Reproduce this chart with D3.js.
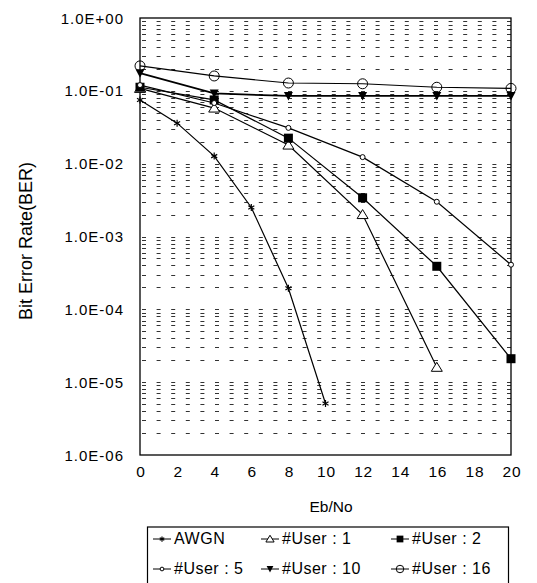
<!DOCTYPE html>
<html>
<head>
<meta charset="utf-8">
<script src="https://cdn.jsdelivr.net/npm/d3@7"></script>
<style>
  body { margin: 0; background: #fff; }
  text { font-family: Arial, "Liberation Sans", sans-serif; fill: #000; }
</style>
</head>
<body>
<div id="chart"></div>
<script>
// Eb/No values
const xTicks = [0, 2, 4, 6, 8, 10, 12, 14, 16, 18, 20];
const yTicks = [1, 1e-1, 1e-2, 1e-3, 1e-4, 1e-5, 1e-6];
const yTickLabels = ["1.0E+00", "1.0E-01", "1.0E-02", "1.0E-03", "1.0E-04", "1.0E-05", "1.0E-06"];

const awgnX = [0, 2, 4, 6, 8, 10];
const awgnY = [0.075, 0.036, 0.0127, 0.0025, 1.95e-4, 5.1e-6];

const user1X = [0, 4, 8, 12, 16];
const user1Y = [0.108, 0.058, 0.018, 0.002, 1.6e-5];

const user2X = [0, 4, 8, 12, 16, 20];
const user2Y = [0.112, 0.075, 0.0224, 0.0034, 3.9e-4, 2.1e-5];

const user5X = [0, 4, 8, 12, 16, 20];
const user5Y = [0.12, 0.068, 0.031, 0.0123, 0.003, 4.1e-4];

const user10X = [0, 4, 8, 12, 16, 20];
const user10Y = [0.175, 0.092, 0.085, 0.085, 0.085, 0.085];

const user16X = [0, 4, 8, 12, 16, 20];
const user16Y = [0.22, 0.16, 0.128, 0.125, 0.112, 0.108];

const series = [
    { name: "AWGN", xs: awgnX, ys: awgnY, marker: "star" },
    { name: "#User : 1", xs: user1X, ys: user1Y, marker: "triUp" },
    { name: "#User : 2", xs: user2X, ys: user2Y, marker: "square" },
    { name: "#User : 5", xs: user5X, ys: user5Y, marker: "smallCircle" },
    { name: "#User : 10", xs: user10X, ys: user10Y, marker: "triDown" },
    { name: "#User : 16", xs: user16X, ys: user16Y, marker: "bigCircle" }
];

const width = 537, height = 583;
const svg = d3.select("#chart").append("svg")
    .attr("width", width)
    .attr("height", height);

const x = d3.scaleLinear().domain([0, 20]).range([140, 511]);
const y = d3.scaleLog().domain([1e-6, 1]).range([455, 18]);

// dashed grid lines at every log tick
const gridVals = [];
for (let e = -6; e < 0; e++) {
    for (let m = 1; m <= 9; m++) gridVals.push(m * Math.pow(10, e));
}
svg.append("g")
    .selectAll("line")
    .data(gridVals.filter(v => v > 1e-6))
    .enter()
    .append("line")
    .attr("x1", x(0) + 2)
    .attr("x2", x(20))
    .attr("y1", d => Math.round(y(d)) + 0.5)
    .attr("y2", d => Math.round(y(d)) + 0.5)
    .attr("stroke", "#333")
    .attr("stroke-width", 1)
    .attr("stroke-dasharray", "4 10.6");

// frame
svg.append("rect")
    .attr("x", x(0))
    .attr("y", y(1))
    .attr("width", x(20) - x(0))
    .attr("height", y(1e-6) - y(1))
    .attr("fill", "none")
    .attr("stroke", "#000")
    .attr("stroke-width", 1.3);

// y tick labels
svg.append("g")
    .selectAll("text")
    .data(yTicks)
    .enter()
    .append("text")
    .attr("x", 124)
    .attr("y", d => y(d) + 5.5)
    .attr("text-anchor", "end")
    .attr("font-size", "15px")
    .attr("letter-spacing", "1px")
    .text((d, i) => yTickLabels[i]);

// x tick labels
svg.append("g")
    .selectAll("text")
    .data(xTicks)
    .enter()
    .append("text")
    .attr("x", d => x(d) + 1)
    .attr("y", 477)
    .attr("text-anchor", "middle")
    .attr("font-size", "15.5px")
    .attr("letter-spacing", "0.8px")
    .text(d => d);

svg.append("text")
    .attr("x", 331)
    .attr("y", 512)
    .attr("text-anchor", "middle")
    .attr("font-size", "15.5px")
    .text("Eb/No");

svg.append("text")
    .attr("transform", "translate(32,241) rotate(-90)")
    .attr("text-anchor", "middle")
    .attr("font-size", "18px")
    .text("Bit Error Rate(BER)");

const line = d3.line().x(d => x(d[0])).y(d => y(d[1]));

function drawMarker(g, type, cx, cy, k = 1) {
    if (type === "star") {
        const r = 3.5 * k;
        for (let a = 0; a < 3; a++) {
            const ang = a * Math.PI / 3 + Math.PI / 2;
            g.append("line")
                .attr("x1", cx - r * Math.cos(ang)).attr("y1", cy - r * Math.sin(ang))
                .attr("x2", cx + r * Math.cos(ang)).attr("y2", cy + r * Math.sin(ang))
                .attr("stroke", "#000").attr("stroke-width", 1.2);
        }
    } else if (type === "triUp") {
        g.append("path")
            .attr("d", `M${cx - 5.5 * k},${cy + 4 * k} L${cx + 5.5 * k},${cy + 4 * k} L${cx},${cy - 5 * k} Z`)
            .attr("fill", "#fff").attr("stroke", "#000").attr("stroke-width", 1);
    } else if (type === "square") {
        g.append("rect")
            .attr("x", cx - 4.5 * k).attr("y", cy - 4.5 * k)
            .attr("width", 9 * k).attr("height", 9 * k)
            .attr("fill", "#000");
    } else if (type === "smallCircle") {
        g.append("circle")
            .attr("cx", cx).attr("cy", cy).attr("r", 2.5 * k)
            .attr("fill", "#fff").attr("stroke", "#000").attr("stroke-width", 1);
    } else if (type === "triDown") {
        g.append("path")
            .attr("d", `M${cx - 4.5 * k},${cy - 4 * k} L${cx + 4.5 * k},${cy - 4 * k} L${cx},${cy + 4.5 * k} Z`)
            .attr("fill", "#000");
    } else if (type === "bigCircle") {
        g.append("circle")
            .attr("cx", cx).attr("cy", cy).attr("r", 5 * k)
            .attr("fill", "none").attr("stroke", "#000").attr("stroke-width", 1);
    }
}

series.forEach(s => {
    const pts = s.xs.map((v, i) => [v, s.ys[i]]);
    svg.append("path")
        .datum(pts)
        .attr("d", line)
        .attr("fill", "none")
        .attr("stroke", "#000")
        .attr("stroke-width", s.marker === "triDown" ? 1.8 : 1.2);
    const g = svg.append("g");
    pts.forEach(p => drawMarker(g, s.marker, x(p[0]), y(p[1])));
});

// legend
const legend = svg.append("g");
legend.append("rect")
    .attr("x", 147.5)
    .attr("y", 527)
    .attr("width", 361)
    .attr("height", 70)
    .attr("fill", "#fff")
    .attr("stroke", "#000")
    .attr("stroke-width", 1.2);

const colX = [153, 261, 391];
const rowY = [538, 568];
series.forEach((s, i) => {
    const cx = colX[i % 3];
    const cy = rowY[Math.floor(i / 3)];
    const g = legend.append("g");
    g.append("line")
        .attr("x1", cx).attr("x2", cx + 18)
        .attr("y1", cy + 1).attr("y2", cy + 1)
        .attr("stroke", "#000").attr("stroke-width", 1);
    drawMarker(g, s.marker, cx + 9, cy + 1, 0.75);
    g.append("text")
        .attr("x", cx + 21)
        .attr("y", cy + 5.5)
        .attr("font-size", "16px")
        .attr("letter-spacing", "0.5px")
        .text(s.name);
});
</script>
</body>
</html>
